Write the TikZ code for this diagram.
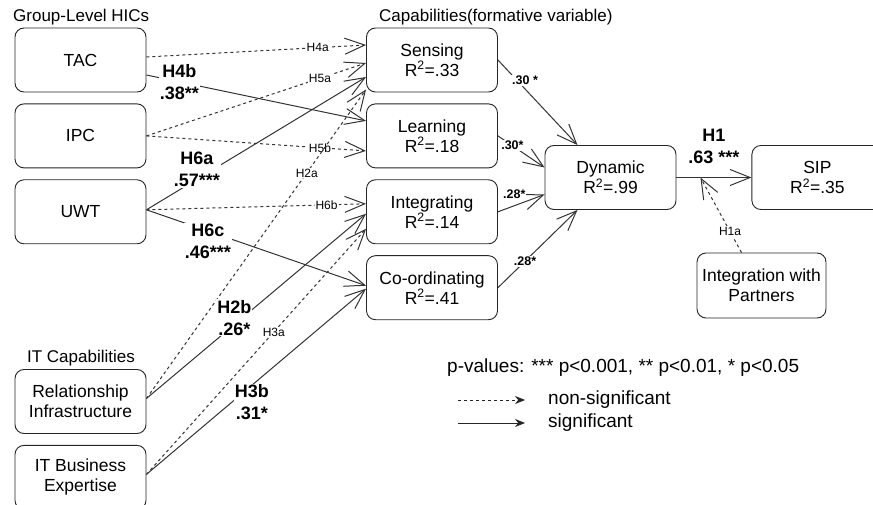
\documentclass[tikz,border=0pt]{standalone}
\usepackage{fontspec}
\setmainfont{Liberation Sans}
\usetikzlibrary{arrows.meta}
\usetikzlibrary{positioning}

\begin{document}
\begin{tikzpicture}[x=1pt,y=-1pt,
		box/.style={draw=black!85,line width=0.9pt,rounded corners=9pt,minimum width=131pt,minimum height=64pt,align=center,font=\fontsize{17.5}{20}\selectfont},
		sig/.style={draw=black!80,line width=1pt,line join=miter,-{Straight Barb[length=20pt,width=16pt,line join=miter]}},
		nonsig/.style={sig,dash pattern=on 3pt off 3pt},
		hyp/.style={fill=white,inner sep=1pt,font=\fontsize{12}{14}\selectfont},
		coef/.style={fill=white,inner sep=1pt,align=center,font=\bfseries\fontsize{18}{22}\selectfont},
		smallcoef/.style={fill=white,inner sep=1pt,font=\bfseries\fontsize{12.5}{14}\selectfont},
		title/.style={inner sep=2pt,font=\fontsize{17}{20}\selectfont},
		legend/.style={inner sep=2pt,font=\fontsize{19}{22}\selectfont},
		legarrow/.style={draw=black!85,line width=1pt,-{Stealth[length=10pt,width=8pt]}}]
	\useasboundingbox (0,0) rectangle (873,505);

				    % Place nodes
				    \node[box] (tac) at (80.5,60) {TAC};
				    \node[box,below=11pt of tac] (ipc) {IPC};
				    \node[box,below=11pt of ipc] (uwt) {UWT};
				    \node[box] (rel) at (80.5,401.5) {Relationship\\Infrastructure};
				    \node[box,below=11pt of rel] (ibe) {IT Business\\Expertise};

				    \node[box] (sen) at (432,60) {Sensing\\R\textsuperscript{2}=.33};
				    \node[box,below=11pt of sen] (lea) {Learning\\R\textsuperscript{2}=.18};
				    \node[box,below=11pt of lea] (int) {Integrating\\R\textsuperscript{2}=.14};
				    \node[box,below=11pt of int] (coo) {Co-ordinating\\R\textsuperscript{2}=.41};

				    \node[box] (dyn) at (610.5,177.5) {Dynamic\\R\textsuperscript{2}=.99};
				    \node[box,right=75pt of dyn] (sip) {SIP\\R\textsuperscript{2}=.35};
				    \node[box,minimum width=129pt,minimum height=65pt] (iwp) at (761.5,285.5) {Integration with\\Partners};

				    % Titles
				    \node[title,anchor=west] (hics) at (11,17) {Group-Level HICs};
				    \node[title,anchor=west] (caps) at (377,17) {Capabilities(formative variable)};
				    \node[title] (itcap) at (81,358) {IT Capabilities};

				    % Legend
				    \node[legend,anchor=west] (pval) at (445,368) {p-values: *** p<0.001, ** p<0.01, * p<0.05};
				    \node[legend,anchor=west] (nsig) at (546,400) {non-significant};
				    \node[legend,anchor=west] (ysig) at (546,423) {significant};
				    \coordinate[left=21pt of nsig] (ns1);
				    \coordinate[left=67pt of ns1] (ns0);
				    \coordinate[left=21pt of ysig] (ys1);
				    \coordinate[left=67pt of ys1] (ys0);
					\draw[legarrow,dash pattern=on 3pt off 3pt] (ns0) -- (ns1);
					\draw[legarrow] (ys0) -- (ys1);

					% HICs -> capabilities
					\draw[nonsig] ([yshift=3pt]tac.east) -- node[hyp,pos=0.78] {H4a} ([yshift=15pt]sen.west);
					\draw[sig] ([yshift=-15pt]tac.east) -- node[coef,pos=0.15] {H4b\\.38**} ([yshift=15pt]lea.west);
					\draw[nonsig] (ipc.east) -- node[hyp,pos=0.79] {H5a} ([yshift=-3pt]sen.west);
					\draw[nonsig] (ipc.east) -- node[hyp,pos=0.79] {H5b} ([yshift=-15pt]lea.west);
					\draw[sig] ([yshift=2pt]uwt.east) -- node[coef,pos=0.23,yshift=10pt] {H6a\\.57***} ([yshift=-17pt]sen.west);
					\draw[nonsig] ([yshift=2pt]uwt.east) -- node[hyp,pos=0.82] {H6b} ([yshift=8pt]int.west);
					\draw[sig] ([yshift=2pt]uwt.east) -- node[coef,pos=0.28,yshift=-10pt] {H6c\\.46***} ([yshift=2pt]coo.west);

					% IT capabilities -> capabilities
					\draw[nonsig] ([yshift=3pt]rel.east) -- node[hyp,pos=0.73] {H2a} ([yshift=3pt]sen.south west);
					\draw[sig] ([yshift=3pt]rel.east) -- node[coef,pos=0.4,yshift=7pt] {H2b\\.26*} ([yshift=-2pt]int.west);
					\draw[nonsig] ([yshift=3pt]ibe.east) -- node[hyp,pos=0.58] {H3a} ([yshift=-17pt]int.west);
					\draw[sig] ([yshift=3pt]ibe.east) -- node[coef,pos=0.48,yshift=-17pt] {H3b\\.31*} ([yshift=-1pt]coo.west);

					% capabilities -> dynamic
					\draw[sig] (sen.east) -- node[smallcoef,pos=0.24,xshift=8pt] {.30 *} ([xshift=-33pt]dyn.north);
					\draw[sig] (lea.east) -- node[smallcoef,pos=0.31] {.30*} ([yshift=10pt]dyn.west);
					\draw[sig] (int.east) -- node[smallcoef,pos=0.35,yshift=12pt] {.28*} ([yshift=-17pt]dyn.west);
					\draw[sig] (coo.east) -- node[smallcoef,pos=0.34] {.28*} ([xshift=-33pt]dyn.south);

					% dynamic -> SIP
					\draw[sig] (dyn.east) -- coordinate[pos=0.32] (h1mid) node[coef,midway,above=12pt] {H1\\.63 ***} (sip.west);
					\draw[nonsig] ([xshift=-20pt]iwp.north) -- node[hyp,pos=0.28] {H1a} (h1mid);
				\end{tikzpicture}
\end{document}
